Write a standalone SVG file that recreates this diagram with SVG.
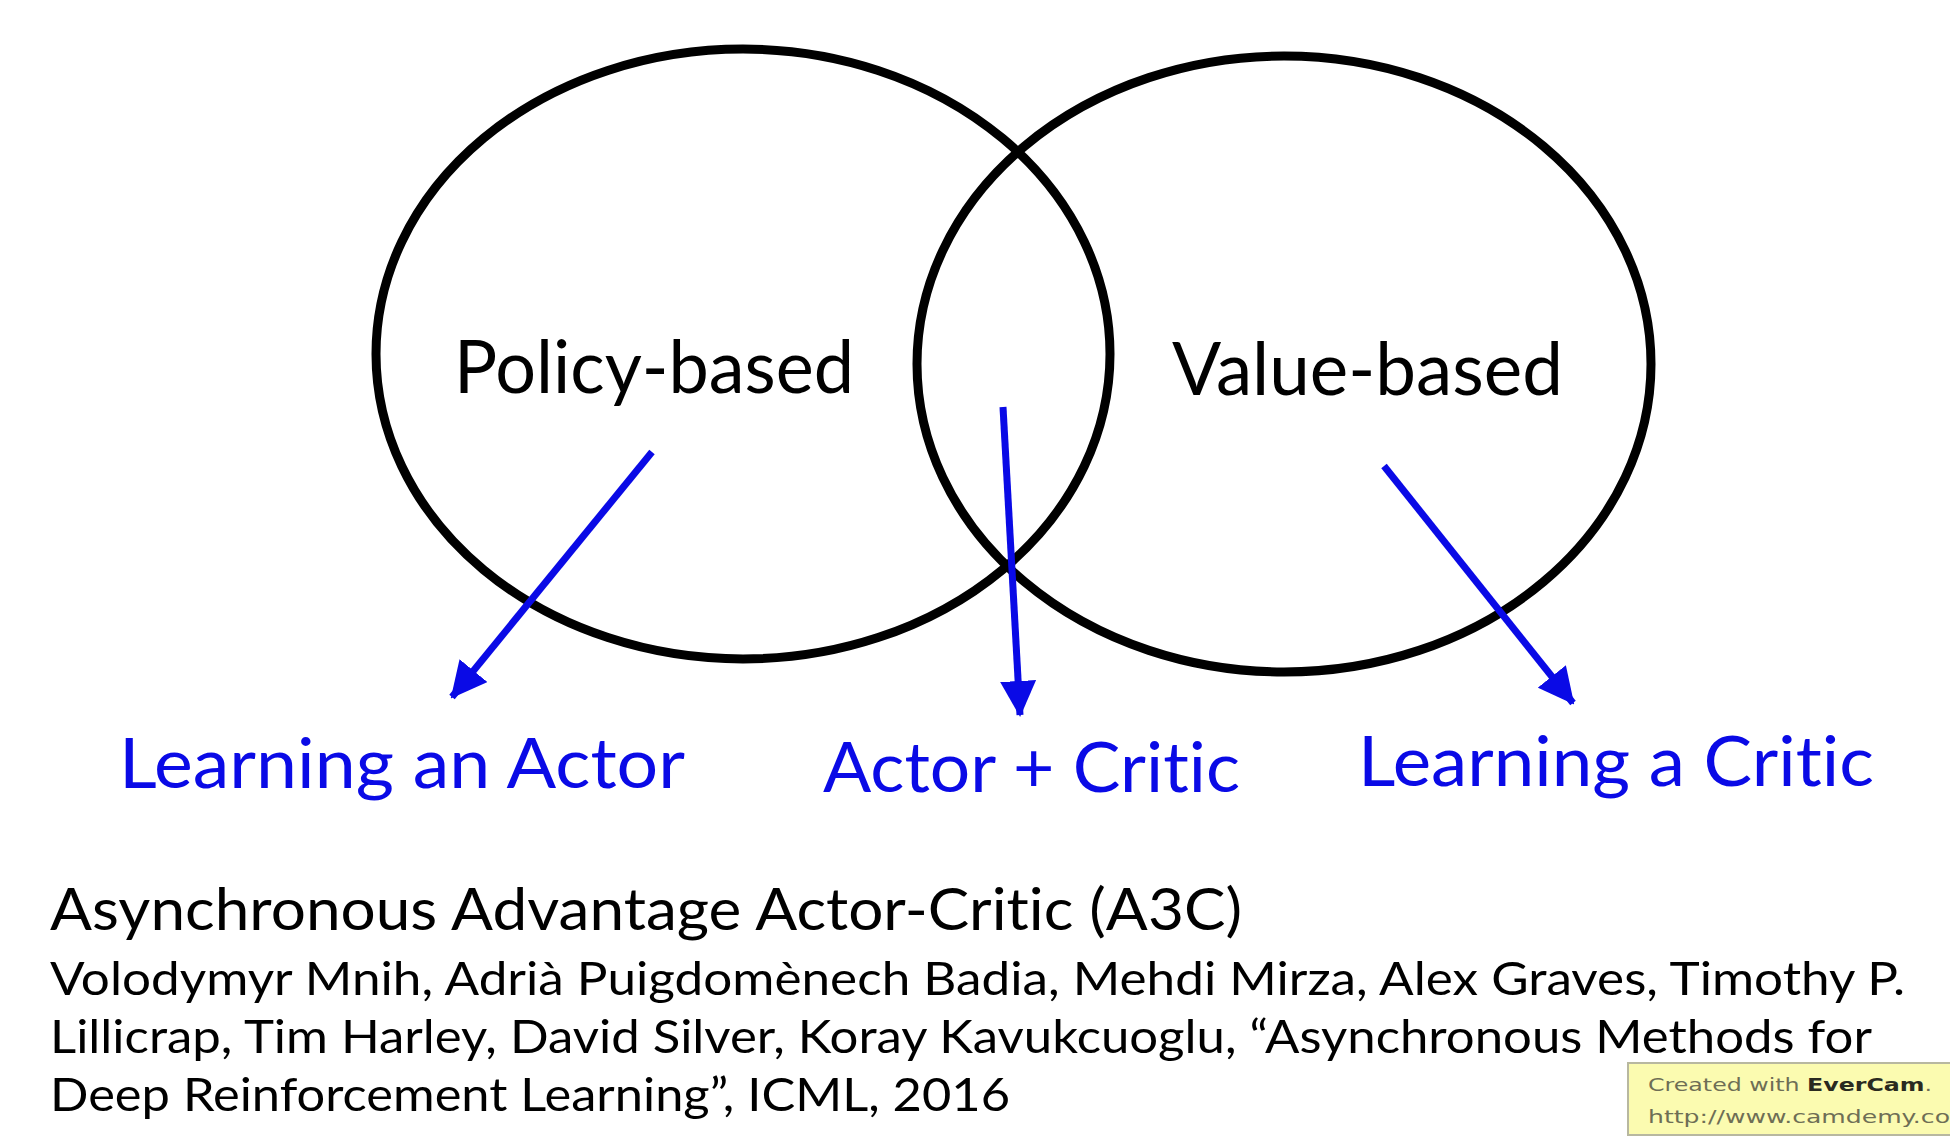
<svg xmlns="http://www.w3.org/2000/svg" width="1950" height="1146" viewBox="0 0 1950 1146">
<style>
.venn{fill:none;stroke:#000;stroke-width:9}
.conn{stroke:#0a0ae6;stroke-width:7;fill:none}
.lbl{font-family:Lato,"Open Sans","Noto Sans",sans-serif;fill:#000;font-variant-ligatures:none}
.blue{font-family:Lato,"Open Sans","Noto Sans",sans-serif;fill:#0a0ae6;font-variant-ligatures:none}
.wm{font-family:"DejaVu Sans",Verdana,sans-serif;font-size:17px;fill:#6e6e55}
</style>
<defs>
<marker id="ah" markerUnits="userSpaceOnUse" viewBox="0 0 36 36" markerWidth="36" markerHeight="36" refX="34" refY="18" orient="auto">
<path d="M0,0 L36,18 L0,36 Z" fill="#0a0ae6"/>
</marker>
</defs>
<rect width="1950" height="1146" fill="#fff"/>
<g id="policy-based">
<ellipse class="venn" cx="743" cy="354" rx="367" ry="305"/>
<text class="lbl" x="454" y="393" font-size="74" textLength="400" lengthAdjust="spacingAndGlyphs">Policy-based</text>
</g>
<g id="value-based">
<ellipse class="venn" cx="1284" cy="364" rx="367" ry="308"/>
<text class="lbl" x="1172" y="395" font-size="74" textLength="391" lengthAdjust="spacingAndGlyphs">Value-based</text>
</g>
<g id="learning-actor">
<text class="blue" x="119" y="788" font-size="70" textLength="566" lengthAdjust="spacingAndGlyphs">Learning an Actor</text>
</g>
<g id="actor-critic">
<text class="blue" x="823" y="792" font-size="70" textLength="417" lengthAdjust="spacingAndGlyphs">Actor + Critic</text>
</g>
<g id="learning-critic">
<text class="blue" x="1358" y="786" font-size="70" textLength="516" lengthAdjust="spacingAndGlyphs">Learning a Critic</text>
</g>
<g id="connectors">
<line class="conn" x1="652" y1="452" x2="452" y2="697" marker-end="url(#ah)"/>
<line class="conn" x1="1003" y1="407" x2="1020" y2="715" marker-end="url(#ah)"/>
<line class="conn" x1="1384" y1="466" x2="1573" y2="703" marker-end="url(#ah)"/>
</g>
<g id="reference">
<text class="lbl" x="50" y="930" font-size="58" textLength="1192" lengthAdjust="spacingAndGlyphs">Asynchronous Advantage Actor-Critic (A3C)</text>
<text class="lbl" x="50" y="995" font-size="47" textLength="1855" lengthAdjust="spacingAndGlyphs">Volodymyr Mnih, Adrià Puigdomènech Badia, Mehdi Mirza, Alex Graves, Timothy P.</text>
<text class="lbl" x="50" y="1053" font-size="47" textLength="1822" lengthAdjust="spacingAndGlyphs">Lillicrap, Tim Harley, David Silver, Koray Kavukcuoglu, “Asynchronous Methods for</text>
<text class="lbl" x="50" y="1111" font-size="47" textLength="960" lengthAdjust="spacingAndGlyphs">Deep Reinforcement Learning”, ICML, 2016</text>
</g>
<g id="watermark">
<rect x="1628" y="1063" width="330" height="72" fill="#fbfbb0" stroke="#b8b8a0" stroke-width="2"/>
<text class="wm" x="1648" y="1091" textLength="284" lengthAdjust="spacingAndGlyphs">Created with <tspan font-weight="bold" fill="#2a2a20">EverCam</tspan>.</text>
<text class="wm" x="1648" y="1123" textLength="302" lengthAdjust="spacingAndGlyphs">http://www.camdemy.co</text>
</g>
</svg>
